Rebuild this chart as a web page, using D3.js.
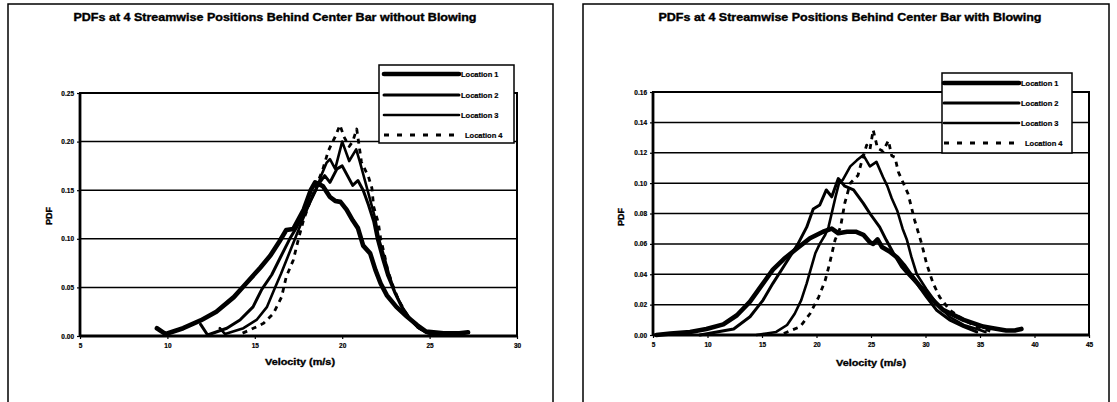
<!DOCTYPE html>
<html><head><meta charset="utf-8">
<script src="https://cdn.jsdelivr.net/npm/d3@7"></script>
<style>
body{margin:0;background:#fff}
svg text{font-family:"Liberation Sans",Arial,sans-serif;font-weight:bold;fill:#000}
.heavy{stroke:#000;stroke-width:0.35px}
</style>
</head><body>
<svg id="c" width="1117" height="402"></svg>
<script>
// PDF of velocity, [velocity (m/s), pdf], four streamwise locations
const noBlowLoc1 = [[9.4,0.008],[9.9,0.002],[10.9,0.008],[11.9,0.016],[12.8,0.025],[13.8,0.040],[14.5,0.054],[15.3,0.070],[15.9,0.083],[16.4,0.097],[16.8,0.109],[17.2,0.110],[17.8,0.130],[18.2,0.150],[18.45,0.158],[18.7,0.156],[18.9,0.154],[19.3,0.143],[19.6,0.139],[19.9,0.138],[20.25,0.130],[20.6,0.119],[20.9,0.111],[21.2,0.093],[21.6,0.085],[21.9,0.068],[22.2,0.054],[22.55,0.042],[23.1,0.030],[23.7,0.020],[24.3,0.011],[24.8,0.0045],[25.8,0.0027],[26.7,0.0027],[27.2,0.0038]];
const noBlowLoc2 = [[11.9,0.012],[12.3,0.001],[13.4,0.008],[14.15,0.0165],[14.9,0.030],[15.4,0.048],[15.97,0.063],[16.44,0.080],[17.0,0.100],[17.4,0.112],[17.8,0.125],[18.2,0.140],[18.6,0.155],[19.0,0.165],[19.3,0.158],[19.7,0.172],[20.0,0.175],[20.3,0.165],[20.6,0.155],[20.9,0.160],[21.2,0.150],[21.5,0.135],[21.8,0.118],[22.0,0.100],[22.3,0.080],[22.6,0.062],[23.0,0.045],[23.4,0.030],[23.9,0.017],[24.4,0.008],[24.9,0.003],[25.3,0.001]];
const noBlowLoc3 = [[13.0,0.008],[13.3,0.002],[14.35,0.008],[15.1,0.0165],[15.7,0.030],[16.16,0.050],[16.5,0.064],[16.9,0.082],[17.3,0.100],[17.7,0.118],[18.1,0.135],[18.5,0.150],[18.8,0.165],[19.1,0.178],[19.3,0.182],[19.6,0.172],[20.0,0.200],[20.4,0.180],[20.8,0.192],[21.0,0.180],[21.3,0.160],[21.6,0.140],[21.9,0.120],[22.1,0.100],[22.4,0.082],[22.7,0.062],[23.0,0.046],[23.4,0.031],[23.8,0.019],[24.3,0.009],[24.8,0.004],[25.2,0.002]];
const noBlowLoc4 = [[14.3,0.003],[14.7,0.006],[15.5,0.013],[16.06,0.023],[16.53,0.040],[16.8,0.061],[17.2,0.078],[17.5,0.100],[17.8,0.120],[18.2,0.140],[18.6,0.158],[18.9,0.172],[19.2,0.190],[19.4,0.198],[19.6,0.205],[19.87,0.217],[20.1,0.205],[20.4,0.195],[20.6,0.200],[20.83,0.213],[20.95,0.198],[21.1,0.179],[21.5,0.164],[21.7,0.152],[21.8,0.133],[22.07,0.116],[22.2,0.100],[22.4,0.085],[22.6,0.068],[22.9,0.052],[23.2,0.038],[23.6,0.025],[24.0,0.015],[24.5,0.007],[25.0,0.003],[25.4,0.001]];

const blowLoc1 = [[5.3,0.0],[6.6,0.001],[8.4,0.002],[9.9,0.004],[11.45,0.007],[12.7,0.013],[13.9,0.022],[15.0,0.033],[16.0,0.043],[17.0,0.050],[18.2,0.057],[19.4,0.0637],[20.6,0.068],[21.4,0.070],[22.0,0.067],[22.8,0.068],[23.6,0.068],[24.3,0.066],[24.9,0.061],[25.2,0.060],[25.6,0.063],[26.0,0.058],[26.7,0.055],[27.4,0.051],[28.0,0.046],[28.6,0.040],[29.5,0.032],[30.4,0.025],[31.6,0.0165],[33.5,0.010],[35.3,0.0055],[36.2,0.0045],[37.4,0.003],[38.2,0.003],[38.8,0.004]];
const blowLoc2 = [[9.3,0.0],[10.85,0.002],[12.4,0.004],[13.9,0.012],[15.1,0.023],[16.0,0.034],[16.8,0.043],[17.6,0.052],[18.3,0.060],[19.1,0.071],[19.7,0.083],[20.3,0.0856],[20.9,0.0955],[21.4,0.091],[22.0,0.103],[22.6,0.098],[23.4,0.0955],[24.3,0.0867],[24.9,0.080],[25.8,0.071],[26.4,0.0625],[27.05,0.054],[27.8,0.045],[28.4,0.040],[29.2,0.034],[30.1,0.025],[31.0,0.0165],[32.2,0.010],[33.5,0.0055],[34.7,0.002]];
const blowLoc3 = [[14.5,0.0],[15.4,0.001],[16.3,0.002],[17.3,0.0066],[18.0,0.014],[18.6,0.023],[19.1,0.034],[19.5,0.044],[19.9,0.054],[20.3,0.060],[20.8,0.066],[21.1,0.071],[21.75,0.091],[22.1,0.101],[22.4,0.102],[23.1,0.111],[23.7,0.115],[24.3,0.1185],[24.9,0.111],[25.5,0.114],[26.1,0.104],[26.5,0.098],[26.9,0.090],[27.4,0.082],[27.9,0.070],[28.3,0.0625],[28.7,0.0516],[29.2,0.040],[30.1,0.030],[31.0,0.021],[32.2,0.012],[33.5,0.0066],[35.0,0.0033],[35.5,0.002]];
const blowLoc4 = [[17.0,0.001],[18.5,0.0055],[19.4,0.014],[20.2,0.025],[20.8,0.036],[21.2,0.047],[21.7,0.0625],[22.2,0.071],[22.6,0.087],[23.1,0.100],[23.8,0.105],[24.1,0.113],[24.6,0.125],[24.9,0.122],[25.2,0.135],[25.6,0.123],[26.1,0.121],[26.6,0.128],[26.9,0.118],[27.2,0.117],[27.5,0.1075],[28.4,0.093],[29.0,0.0757],[29.65,0.060],[30.1,0.047],[30.7,0.034],[31.3,0.025],[32.2,0.0165],[33.5,0.010],[34.7,0.0055],[36.2,0.002]];

const seriesNames = ["Location 1","Location 2","Location 3","Location 4"];
const xTicksNoBlow = [5,10,15,20,25,30];
const yTicksNoBlow = [0,0.05,0.10,0.15,0.20,0.25];
const xTicksBlow = [5,10,15,20,25,30,35,40,45];
const yTicksBlow = [0,0.02,0.04,0.06,0.08,0.10,0.12,0.14,0.16];
const titleNoBlow = "PDFs at 4 Streamwise Positions Behind Center Bar without Blowing";
const titleBlow = "PDFs at 4 Streamwise Positions Behind Center Bar with Blowing";
const xAxisTitle = "Velocity (m/s)";
const yAxisTitle = "PDF";

// line style per location
const lineStyles = [
  {width:4.6, dash:null},
  {width:3.0, dash:null},
  {width:2.6, dash:null},
  {width:2.8, dash:"5,5"}
];

const panels = [
  {title:titleNoBlow, series:[noBlowLoc1,noBlowLoc2,noBlowLoc3,noBlowLoc4],
   xDomain:[5,30], xTicks:xTicksNoBlow, yDomain:[0,0.25], yTicks:yTicksNoBlow,
   frame:{l:8,t:4,r:553,b:430}, plot:{l:80,r:517,t:93,b:336},
   titlePos:[275,21,403], xLab:[300,365,70], yLab:[49,216],
   legend:{l:379,t:65,r:514,b:143,rows:[74,95,115,135],x0:384,x1:459,tx:461}},
  {title:titleBlow, series:[blowLoc1,blowLoc2,blowLoc3,blowLoc4],
   xDomain:[5,45], xTicks:xTicksBlow, yDomain:[0,0.16], yTicks:yTicksBlow,
   frame:{l:583,t:4,r:1109,b:430}, plot:{l:653,r:1089,t:92,b:335},
   titlePos:[850,21,383], xLab:[871,366,70], yLab:[621,217],
   legend:{l:942,t:73,r:1072,b:153,rows:[83,103,123,143],x0:944,x1:1019,tx:1021}}
];

const svg = d3.select("#c");

panels.forEach(p => {
  const g = svg.append("g");
  const x = d3.scaleLinear().domain(p.xDomain).range([p.plot.l, p.plot.r]);
  const y = d3.scaleLinear().domain(p.yDomain).range([p.plot.b, p.plot.t]);

  // outer chart frame
  g.append("rect").attr("x",p.frame.l).attr("y",p.frame.t)
    .attr("width",p.frame.r-p.frame.l).attr("height",p.frame.b-p.frame.t)
    .attr("fill","none").attr("stroke","#000").attr("stroke-width",1.5);

  // title
  g.append("text").attr("class","heavy").attr("x",p.titlePos[0]).attr("y",p.titlePos[1])
    .attr("text-anchor","middle").attr("font-size",10)
    .attr("textLength",p.titlePos[2]).attr("lengthAdjust","spacingAndGlyphs")
    .text(p.title);

  // horizontal gridlines
  g.append("g").selectAll("line").data(p.yTicks).join("line")
    .attr("x1",p.plot.l).attr("x2",p.plot.r)
    .attr("y1",d=>y(d)).attr("y2",d=>y(d))
    .attr("stroke","#000").attr("stroke-width",1.5);

  // axes
  const xa = g.append("g").attr("transform",`translate(0,${p.plot.b})`)
    .call(d3.axisBottom(x).tickValues(p.xTicks).tickSize(3).tickPadding(5).tickFormat(d3.format("d")));
  const ya = g.append("g").attr("transform",`translate(${p.plot.l},0)`)
    .call(d3.axisLeft(y).tickValues(p.yTicks).tickSize(3).tickPadding(3).tickFormat(d3.format(".2f")));
  [xa,ya].forEach(a=>{
    a.select(".domain").remove();
    a.selectAll(".tick line").attr("stroke","#000").attr("stroke-width",1.2);
    a.selectAll(".tick text").attr("font-size",6.5).attr("font-family","'Liberation Sans',Arial,sans-serif")
      .attr("font-weight","bold").attr("fill","#000").attr("stroke","#000").attr("stroke-width",0.2);
  });
  xa.selectAll(".tick text").attr("dy","0.6em");

  // curves
  const line = d3.line().x(d=>x(d[0])).y(d=>y(d[1]));
  p.series.forEach((s,i)=>{
    g.append("path").datum(s).attr("d",line)
      .attr("fill","none").attr("stroke","#000")
      .attr("stroke-width",lineStyles[i].width)
      .attr("stroke-linejoin","round").attr("stroke-linecap", lineStyles[i].dash ? "butt" : "round")
      .attr("stroke-dasharray",lineStyles[i].dash);
  });

  // plot area border
  g.append("rect").attr("x",p.plot.l).attr("y",p.plot.t)
    .attr("width",p.plot.r-p.plot.l).attr("height",p.plot.b-p.plot.t)
    .attr("fill","none").attr("stroke","#000").attr("stroke-width",2);
  g.append("line").attr("x1",p.plot.l).attr("x2",p.plot.l).attr("y1",p.plot.t).attr("y2",p.plot.b)
    .attr("stroke","#000").attr("stroke-width",2.8);
  g.append("line").attr("x1",p.plot.l).attr("x2",p.plot.r).attr("y1",p.plot.b).attr("y2",p.plot.b)
    .attr("stroke","#000").attr("stroke-width",2.8);

  // axis titles
  g.append("text").attr("class","heavy").attr("x",p.xLab[0]).attr("y",p.xLab[1]).attr("text-anchor","middle")
    .attr("font-size",9.5).attr("textLength",p.xLab[2]).attr("lengthAdjust","spacingAndGlyphs")
    .text(xAxisTitle);
  g.append("text").attr("class","heavy").attr("transform",`translate(${p.yLab[0]},${p.yLab[1]}) rotate(-90)`)
    .attr("text-anchor","middle").attr("dy","0.35em").attr("font-size",9).text(yAxisTitle);

  // legend
  const L = p.legend;
  g.append("rect").attr("x",L.l).attr("y",L.t).attr("width",L.r-L.l).attr("height",L.b-L.t)
    .attr("fill","#fff").attr("stroke","#000").attr("stroke-width",1.5);
  const rows = g.append("g").selectAll("g").data(seriesNames).join("g");
  rows.append("line").attr("x1",L.x0).attr("x2",L.x1)
    .attr("y1",(d,i)=>L.rows[i]).attr("y2",(d,i)=>L.rows[i])
    .attr("stroke","#000").attr("stroke-width",(d,i)=>lineStyles[i].width)
    .attr("stroke-linecap",(d,i)=>lineStyles[i].dash ? "butt" : "round")
    .attr("stroke-dasharray",(d,i)=>lineStyles[i].dash ? "5,8" : null);
  rows.append("text").attr("x",(d,i)=>lineStyles[i].dash ? L.tx+4 : L.tx).attr("y",(d,i)=>L.rows[i])
    .attr("dy","0.35em").attr("font-size",7.5).attr("stroke","#000").attr("stroke-width",0.2).text(d=>d);
});
</script>
</body></html>
